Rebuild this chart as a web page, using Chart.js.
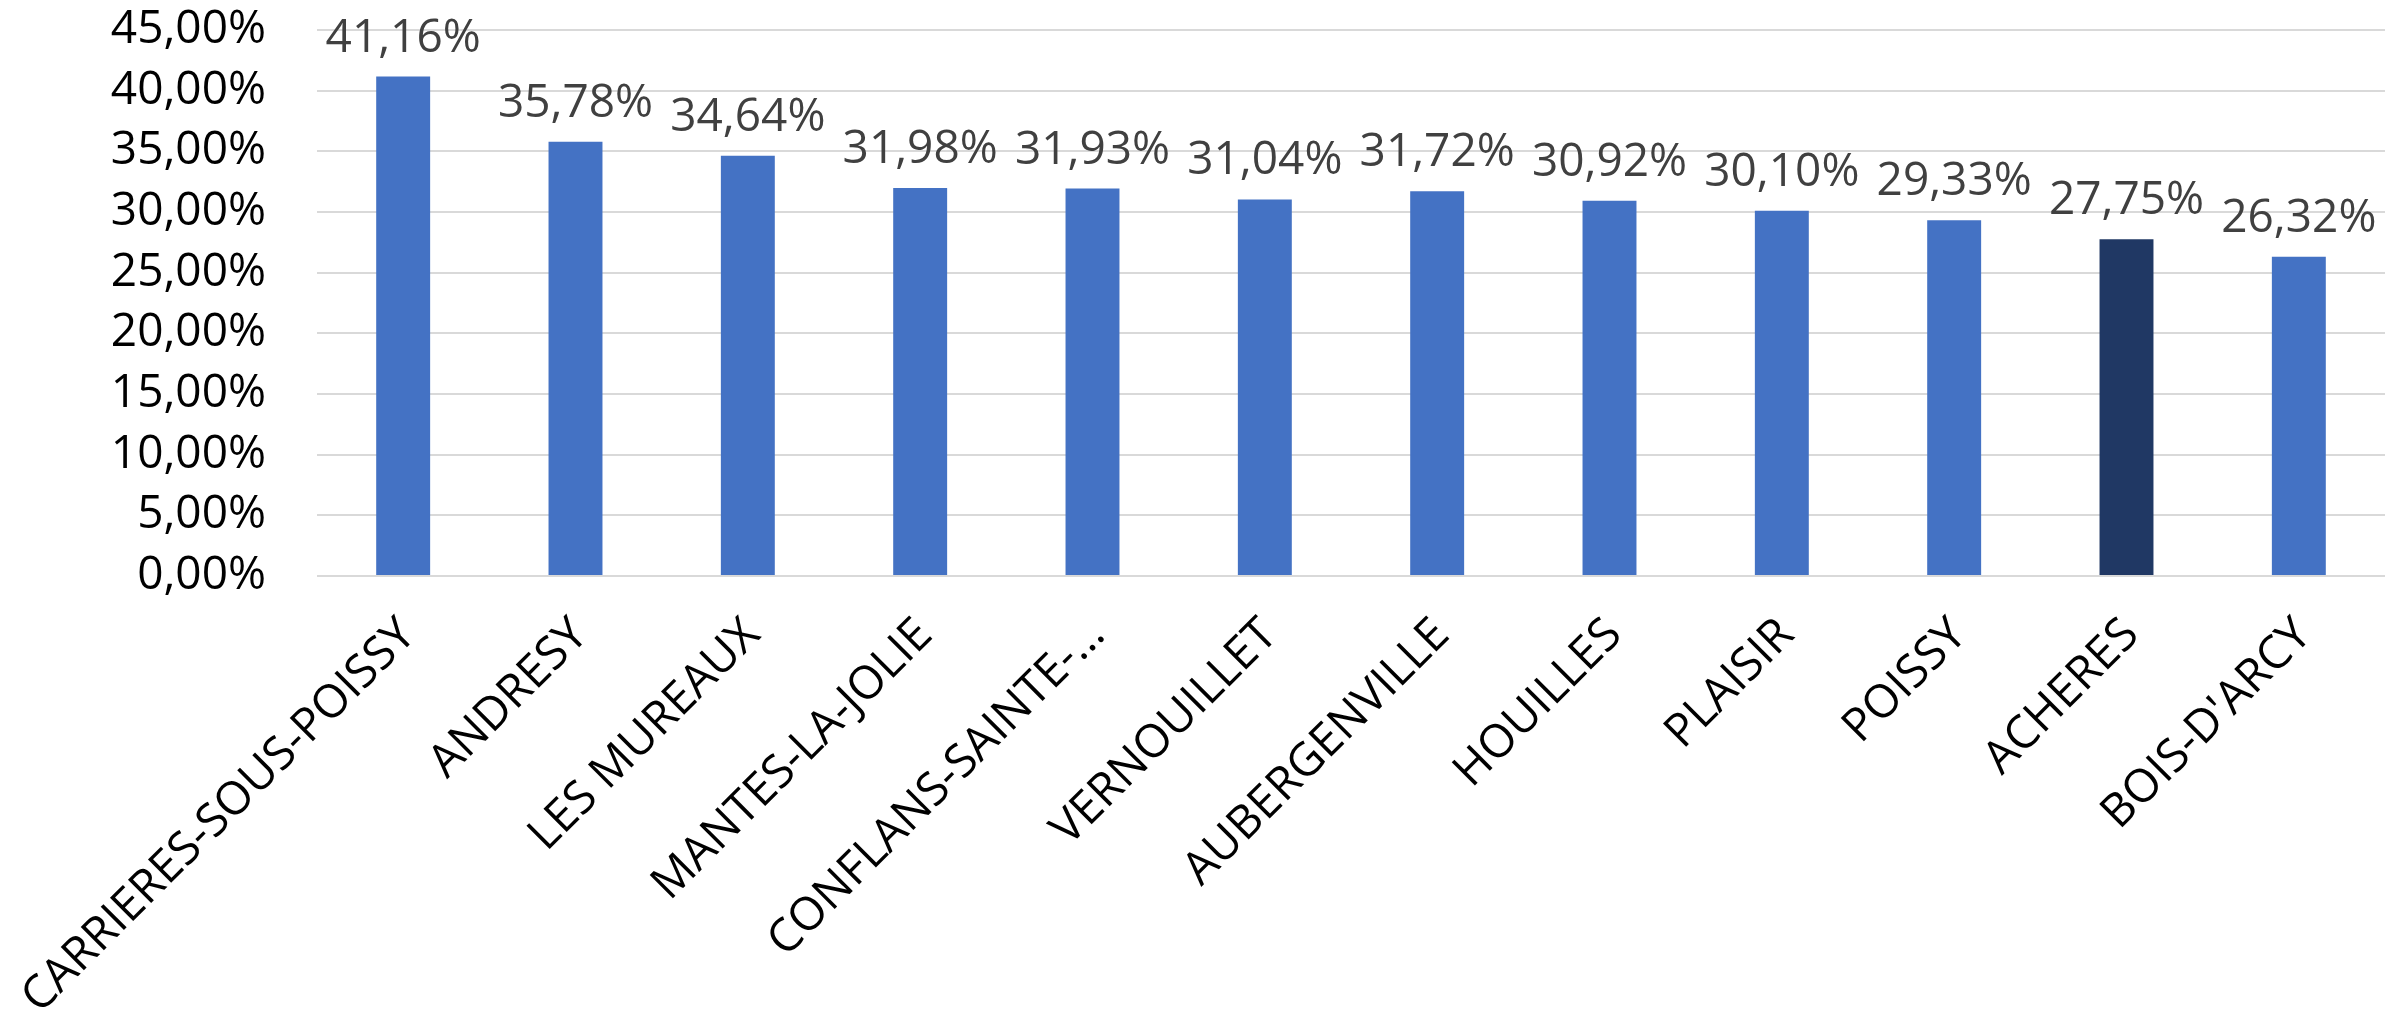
<!DOCTYPE html>
<html>
<head>
<meta charset="utf-8">
<script src="https://cdn.jsdelivr.net/npm/chart.js@4"></script>
<style>
  html, body { margin: 0; padding: 0; background: #ffffff; }
  #wrap { width: 2404px; height: 1022px; position: relative; }
</style>
</head>
<body>
<div id="wrap"><canvas id="c" width="2404" height="1022"></canvas></div>
<script>
const categories = ["CARRIERES-SOUS-POISSY", "ANDRESY", "LES MUREAUX", "MANTES-LA-JOLIE", "CONFLANS-SAINTE-…", "VERNOUILLET", "AUBERGENVILLE", "HOUILLES", "PLAISIR", "POISSY", "ACHERES", "BOIS-D'ARCY"];
const values = [41.16, 35.78, 34.64, 31.98, 31.93, 31.04, 31.72, 30.92, 30.10, 29.33, 27.75, 26.32];
const highlighted = ["ACHERES"];
const yTicks = [0, 5, 10, 15, 20, 25, 30, 35, 40, 45];

const fmt = v => v.toFixed(2).replace('.', ',') + '%';
const barColors = categories.map(c => highlighted.includes(c) ? '#203864' : '#4472C4');

const valueLabels = {
  id: 'valueLabels',
  afterDatasetsDraw(chart) {
    const ctx = chart.ctx;
    const meta = chart.getDatasetMeta(0);
    ctx.save();
    ctx.font = '46px "Open Sans"';
    ctx.fillStyle = '#404040';
    ctx.textAlign = 'center';
    ctx.textBaseline = 'alphabetic';
    meta.data.forEach((bar, i) => {
      ctx.fillText(fmt(values[i]), bar.x, bar.y - 25);
    });
    ctx.restore();
  }
};

new Chart(document.getElementById('c'), {
  type: 'bar',
  data: {
    labels: categories,
    datasets: [{
      data: values,
      backgroundColor: barColors,
      borderWidth: 0,
      categoryPercentage: 1,
      barPercentage: 0.313
    }]
  },
  options: {
    responsive: false,
    animation: false,
    devicePixelRatio: 1,
    layout: { padding: { top: 30, right: 19, left: 0, bottom: 0 } },
    plugins: { legend: { display: false }, tooltip: { enabled: false } },
    scales: {
      x: {
        grid: { display: false, drawTicks: false },
        border: { display: false },
        ticks: {
          autoSkip: false,
          minRotation: 45,
          maxRotation: 45,
          padding: 32,
          labelOffset: 5,
          color: '#000000',
          font: { family: '"Open Sans"', size: 46 }
        },
        afterFit: s => { s.height = 446; s.paddingLeft = 0; s.paddingRight = 0; }
      },
      y: {
        min: 0,
        max: 45,
        afterBuildTicks: s => { s.ticks = yTicks.map(v => ({ value: v })); },
        grid: { color: '#d9d9d9', lineWidth: 2, drawTicks: false },
        border: { display: false },
        ticks: {
          autoSkip: false,
          padding: 51,
          color: '#000000',
          font: { family: '"Open Sans"', size: 46 },
          callback: v => fmt(v)
        },
        afterFit: s => { s.width = 317; s.paddingTop = 0; s.paddingBottom = 0; }
      }
    }
  },
  plugins: [valueLabels]
});
</script>
</body>
</html>
